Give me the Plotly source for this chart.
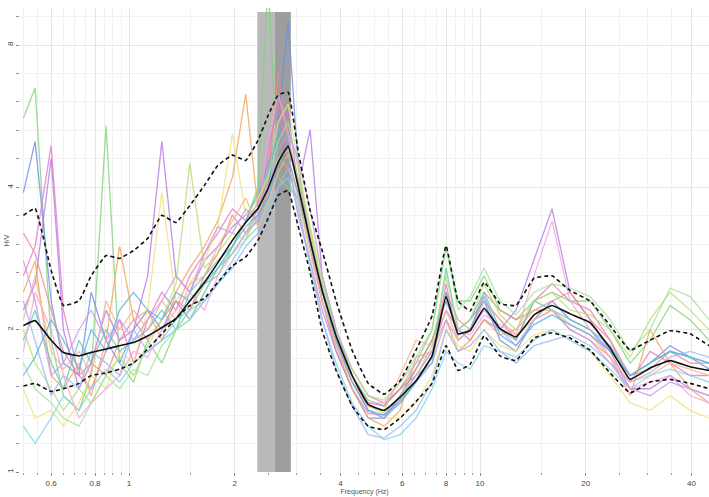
import plotly.graph_objects as go

freq = [0.5, 0.54, 0.6, 0.65, 0.72, 0.78, 0.86, 0.94, 1.03, 1.13, 1.24, 1.36, 1.49, 1.64, 1.79,
        1.97, 2.15, 2.33, 2.49, 2.66, 2.84, 3.03, 3.28, 3.55, 3.89, 4.32, 4.8, 5.33, 5.92, 6.57,
        7.3, 8.0, 8.66, 9.37, 10.27, 11.4, 12.66, 14.25, 16.04, 18.05, 20.58, 23.47, 26.76,
        30.5, 34.78, 39.66, 44.93]

mean_hv = [2.04, 2.09, 1.90, 1.79, 1.76, 1.79, 1.82, 1.85, 1.88, 1.94, 2.02, 2.11, 2.30, 2.52, 2.77,
           3.09, 3.37, 3.61, 3.98, 4.52, 4.89, 4.04, 3.09, 2.42, 1.94, 1.60, 1.39, 1.35, 1.44, 1.56,
           1.76, 2.35, 1.96, 1.99, 2.22, 2.01, 1.93, 2.15, 2.25, 2.16, 2.07, 1.83, 1.57, 1.66, 1.72,
           1.67, 1.64]
upper_hv = [3.49, 3.61, 2.67, 2.25, 2.30, 2.60, 2.87, 2.83, 2.94, 3.12, 3.49, 3.37, 3.66, 4.04, 4.45,
            4.68, 4.56, 5.03, 5.68, 6.27, 6.36, 4.79, 3.57, 2.94, 2.30, 1.81, 1.54, 1.46, 1.56, 1.81,
            2.14, 3.01, 2.30, 2.19, 2.52, 2.27, 2.25, 2.57, 2.60, 2.42, 2.30, 2.04, 1.81, 1.90, 1.99,
            1.96, 1.85]
lower_hv = [1.52, 1.54, 1.48, 1.50, 1.54, 1.60, 1.62, 1.65, 1.70, 1.82, 1.96, 2.11, 2.25, 2.33, 2.52,
            2.73, 2.85, 3.09, 3.44, 3.85, 3.94, 3.32, 2.64, 1.99, 1.64, 1.38, 1.25, 1.23, 1.30, 1.41,
            1.54, 1.85, 1.64, 1.69, 1.94, 1.76, 1.72, 1.92, 1.97, 1.92, 1.81, 1.62, 1.47, 1.55, 1.57,
            1.54, 1.50]

windows = [
    [5.6, 6.5, 1.9, 1.45, 1.35, 1.6, 5.4, 1.7, 1.55, 1.9, 1.7, 2.0, 2.2, 2.5, 2.6, 3.0, 3.4, 4.0, 11.0,
     4.2, 4.0, 3.8, 3.0, 2.3, 1.9, 1.6, 1.42, 1.38, 1.5, 1.7, 2.0, 3.0, 2.3, 2.3, 2.6, 2.2, 2.1, 2.3,
     2.4, 2.3, 2.3, 2.0, 1.7, 1.9, 2.25, 2.1, 1.9],
    [3.9, 5.0, 2.3, 1.7, 1.6, 2.4, 1.9, 1.7, 2.0, 2.2, 2.0, 2.3, 2.1, 2.4, 2.7, 2.9, 3.2, 3.4, 4.0,
     5.5, 9.0, 4.5, 3.0, 2.3, 1.8, 1.5, 1.3, 1.3, 1.45, 1.65, 1.9, 2.3, 2.0, 2.1, 2.3, 1.9, 1.8, 2.1,
     2.3, 2.1, 2.0, 1.8, 1.6, 1.7, 1.85, 1.75, 1.65],
    [2.2, 2.5, 4.6, 2.0, 1.5, 1.7, 2.2, 1.9, 2.0, 2.6, 5.0, 2.6, 2.4, 2.8, 3.0, 3.3, 3.5, 3.8, 4.5,
     5.2, 5.8, 4.0, 5.3, 2.6, 2.0, 1.6, 1.4, 1.38, 1.5, 1.6, 1.8, 2.2, 2.0, 1.9, 2.1, 2.0, 2.2, 2.8,
     3.6, 2.4, 2.1, 1.8, 1.5, 1.5, 1.6, 1.5, 1.45],
    [2.6, 3.0, 4.9, 2.2, 1.6, 1.5, 1.8, 2.1, 1.7, 2.1, 2.4, 2.2, 2.6, 2.9, 3.2, 3.6, 3.4, 3.7, 4.8,
     6.0, 4.6, 3.5, 2.8, 2.2, 1.8, 1.5, 1.33, 1.32, 1.4, 1.55, 1.75, 2.5, 1.9, 2.0, 2.3, 2.1, 1.9,
     2.3, 2.5, 2.3, 2.2, 1.9, 1.55, 1.8, 1.7, 1.6, 1.6],
    [3.2, 2.9, 2.2, 1.8, 1.6, 1.7, 1.6, 1.9, 2.1, 1.9, 2.1, 2.3, 2.2, 2.6, 2.9, 3.5, 3.2, 3.6, 4.2,
     7.0, 5.0, 4.2, 3.2, 2.5, 2.0, 1.65, 1.45, 1.4, 1.5, 1.65, 1.9, 2.4, 2.1, 2.0, 2.4, 2.2, 2.1, 2.2,
     2.3, 2.4, 2.1, 1.9, 1.6, 1.65, 1.8, 1.7, 1.7],
    [2.4, 2.8, 1.6, 1.5, 1.7, 1.45, 1.9, 3.0, 2.1, 2.2, 1.9, 2.4, 2.7, 3.0, 3.4, 4.2, 6.3, 3.6, 3.9,
     4.6, 4.4, 3.9, 3.0, 2.3, 1.85, 1.5, 1.3, 1.25, 1.35, 1.75, 1.8, 2.1, 1.8, 1.9, 2.1, 1.95, 2.0,
     2.2, 2.2, 2.0, 1.9, 1.75, 1.45, 2.0, 1.7, 1.5, 1.4],
    [1.5, 1.3, 1.35, 1.25, 1.4, 1.6, 1.5, 1.8, 1.7, 2.2, 3.9, 2.3, 2.5, 2.8, 3.3, 5.2, 3.5, 3.8, 4.2,
     5.5, 6.0, 4.5, 3.3, 2.6, 2.0, 1.6, 1.35, 1.3, 1.3, 1.4, 1.6, 2.0, 1.85, 1.8, 2.0, 1.85, 1.8,
     1.95, 2.0, 1.9, 1.8, 1.6, 1.4, 1.35, 1.45, 1.35, 1.3],
    [1.25, 1.15, 1.3, 1.45, 1.35, 1.5, 1.65, 1.55, 1.7, 1.8, 1.9, 2.1, 2.2, 2.3, 2.5, 2.8, 3.1, 3.3,
     3.6, 4.0, 4.2, 3.6, 2.8, 2.1, 1.7, 1.4, 1.25, 1.17, 1.2, 1.3, 1.5, 1.8, 1.7, 1.65, 1.85, 1.8,
     1.75, 1.9, 2.0, 1.9, 1.8, 1.65, 1.5, 1.6, 1.65, 1.6, 1.55],
    [1.9, 2.2, 1.7, 1.5, 1.9, 1.7, 2.0, 1.8, 1.9, 2.0, 2.2, 2.0, 2.4, 2.6, 2.8, 3.0, 3.4, 3.9, 4.3,
     5.3, 5.0, 4.0, 3.1, 2.4, 1.9, 1.55, 1.35, 1.3, 1.4, 1.55, 1.75, 2.7, 2.0, 2.1, 2.4, 2.0, 1.9,
     2.3, 2.2, 2.1, 2.0, 1.85, 1.6, 1.7, 1.8, 1.75, 1.7],
    [2.0, 1.7, 1.5, 1.35, 1.5, 1.4, 1.6, 1.75, 1.6, 1.85, 2.1, 2.5, 4.5, 2.7, 2.9, 3.2, 3.1, 3.5, 4.0,
     4.6, 4.8, 4.2, 3.3, 2.5, 1.95, 1.6, 1.38, 1.33, 1.45, 1.6, 1.85, 2.6, 2.0, 2.1, 2.5, 2.15, 2.0,
     2.3, 2.4, 2.2, 2.15, 2.0, 1.75, 2.1, 2.4, 2.2, 2.0],
    [2.3, 1.9, 1.45, 1.6, 1.5, 1.8, 1.7, 1.6, 2.0, 1.8, 1.9, 2.0, 2.1, 2.3, 2.5, 2.7, 3.0, 3.2, 3.4,
     4.0, 4.4, 3.7, 2.7, 2.1, 1.65, 1.38, 1.2, 1.18, 1.25, 1.35, 1.55, 2.0, 1.8, 1.85, 2.0, 1.8, 1.7,
     1.85, 1.9, 1.95, 1.85, 1.7, 1.55, 1.62, 1.75, 1.8, 1.75],
    [1.8, 2.4, 2.0, 1.6, 1.3, 1.4, 1.5, 1.6, 1.8, 1.75, 2.0, 2.2, 2.4, 2.2, 2.6, 2.9, 3.2, 3.5, 5.0,
     6.3, 5.2, 4.0, 3.0, 2.3, 1.9, 1.55, 1.4, 1.4, 1.55, 1.7, 1.8, 2.2, 2.0, 1.95, 2.15, 2.05, 1.95,
     2.6, 3.4, 2.3, 2.0, 1.75, 1.5, 1.55, 1.6, 1.45, 1.4],
    [1.7, 1.5, 1.4, 1.3, 1.25, 1.4, 1.6, 1.5, 1.65, 1.6, 1.85, 2.0, 2.1, 2.4, 2.7, 2.9, 3.1, 3.8, 4.2,
     5.0, 5.5, 4.4, 3.2, 2.5, 2.0, 1.65, 1.45, 1.42, 1.55, 1.75, 2.0, 3.0, 2.2, 2.35, 2.7, 2.3, 2.15,
     2.4, 2.5, 2.45, 2.35, 2.1, 1.8, 2.0, 2.45, 2.35, 2.1],
    [2.8, 2.3, 1.6, 1.7, 2.0, 2.2, 1.9, 2.1, 1.9, 2.1, 2.3, 2.6, 2.4, 2.9, 3.3, 3.2, 3.6, 3.4, 3.9,
     4.8, 5.2, 4.6, 3.6, 2.6, 2.0, 1.6, 1.35, 1.3, 1.42, 1.6, 1.7, 2.1, 1.9, 2.0, 2.2, 2.0, 1.85, 2.1,
     2.2, 2.0, 1.9, 1.7, 1.5, 1.45, 1.55, 1.5, 1.45],
    [2.1, 2.6, 1.8, 1.65, 1.8, 1.6, 2.3, 2.0, 2.2, 2.0, 2.3, 2.1, 2.5, 2.6, 3.0, 3.4, 3.8, 3.3, 3.7,
     4.3, 4.7, 3.8, 2.9, 2.3, 1.85, 1.55, 1.38, 1.35, 1.6, 1.9, 1.85, 2.2, 1.9, 2.0, 2.3, 2.1, 1.95,
     2.1, 2.2, 2.05, 1.95, 1.75, 1.55, 1.6, 1.7, 1.65, 1.6],
    [1.6, 1.75, 2.1, 1.9, 1.65, 2.0, 1.8, 2.2, 2.4, 2.2, 2.1, 2.4, 2.3, 2.5, 2.7, 3.0, 3.3, 3.5, 3.8,
     4.5, 4.6, 3.9, 3.1, 2.4, 1.9, 1.55, 1.35, 1.32, 1.42, 1.55, 1.7, 2.4, 1.95, 2.0, 2.35, 1.95,
     1.85, 2.05, 2.15, 2.05, 1.95, 1.8, 1.6, 1.7, 1.8, 1.75, 1.7],
]
window_colors = ["#7ed67a", "#6d8fe8", "#b57be6", "#e67ac8", "#f08a8a", "#f5a55a", "#f2e27a",
                 "#7fd3ee", "#5fc7b8", "#b8e070", "#9ab8f5", "#f4a6d7", "#a4e39a", "#c79af0",
                 "#f7b58a", "#5ab4e6"]

f0_band = [2.32, 2.60, 2.89]
band_top = 9.4

x_tickvals = [0.6, 0.8, 1, 2, 4, 6, 8, 10, 20, 40]
x_ticktext = ["0.6", "0.8", "1", "2", "4", "6", "8", "10", "20", "40"]
x_minor = [0.5, 0.55, 0.65, 0.7, 0.75, 0.85, 0.9, 0.95, 1.5, 2.5, 3, 3.5, 4.5, 5, 5.5, 6.5, 7,
           7.5, 8.5, 9, 9.5, 15, 25, 30, 35]
y_tickvals = [1, 2, 4, 8]
y_ticktext = ["1", "2", "4", "8"]
y_minor = [2 ** (k / 5) for k in range(1, 17) if k % 5 != 0]

fig = go.Figure()

fig.add_shape(type="rect", xref="x", yref="y", x0=f0_band[0], x1=f0_band[1], y0=1, y1=band_top,
              fillcolor="#b9b9b9", line_width=0, layer="between")
fig.add_shape(type="rect", xref="x", yref="y", x0=f0_band[1], x1=f0_band[2], y0=1, y1=band_top,
              fillcolor="#9d9d9d", line_width=0, layer="between")

for vals, col in zip(windows, window_colors):
    fig.add_trace(go.Scatter(x=freq, y=vals, mode="lines", line=dict(color=col, width=1.3),
                             opacity=0.8, showlegend=False, hoverinfo="skip"))

for vals in (upper_hv, lower_hv):
    fig.add_trace(go.Scatter(x=freq, y=vals, mode="lines",
                             line=dict(color="#111111", width=1.6, dash="4px,3px",
                                       shape="spline", smoothing=0.3), showlegend=False))
fig.add_trace(go.Scatter(x=freq, y=mean_hv, mode="lines",
                         line=dict(color="#111111", width=1.6, shape="spline", smoothing=0.3),
                         showlegend=False))

axis_font = dict(family="Liberation Sans, Arial", size=8, color="#444444")

fig.update_xaxes(type="log", range=[-0.3106, 1.6522], tickvals=x_tickvals, ticktext=x_ticktext,
                 ticks="outside", ticklen=3, tickcolor="#888888", tickfont=axis_font,
                 showgrid=True, gridcolor="#e6e6e6", gridwidth=1, zeroline=False, showline=False,
                 minor=dict(tickvals=x_minor, ticks="outside", ticklen=2, tickcolor="#999999",
                            showgrid=True, gridcolor="#f1f1f1"),
                 title=dict(text="Frequency (Hz)", font=dict(family="Liberation Sans, Arial", size=7,
                                                             color="#555555"), standoff=2))
fig.update_yaxes(type="log", range=[0, 0.9815], tickvals=y_tickvals, ticktext=y_ticktext,
                 tickangle=-90, ticks="outside", ticklen=3, tickcolor="#888888", tickfont=axis_font,
                 showgrid=True, gridcolor="#e6e6e6", zeroline=False, showline=False,
                 minor=dict(tickvals=y_minor, ticks="outside", ticklen=3, tickcolor="#999999",
                            showgrid=True, gridcolor="#f1f1f1"))

fig.add_annotation(text="H/V", xref="paper", yref="paper", x=-0.012, y=0.5, showarrow=False,
                   textangle=-90, xanchor="right", yanchor="middle",
                   font=dict(family="Liberation Sans, Arial", size=7, color="#555555"))

fig.update_layout(width=709, height=497, margin=dict(l=20, r=0, t=8, b=25),
                  plot_bgcolor="white", paper_bgcolor="white", showlegend=False)

fig.write_html("out.html")
